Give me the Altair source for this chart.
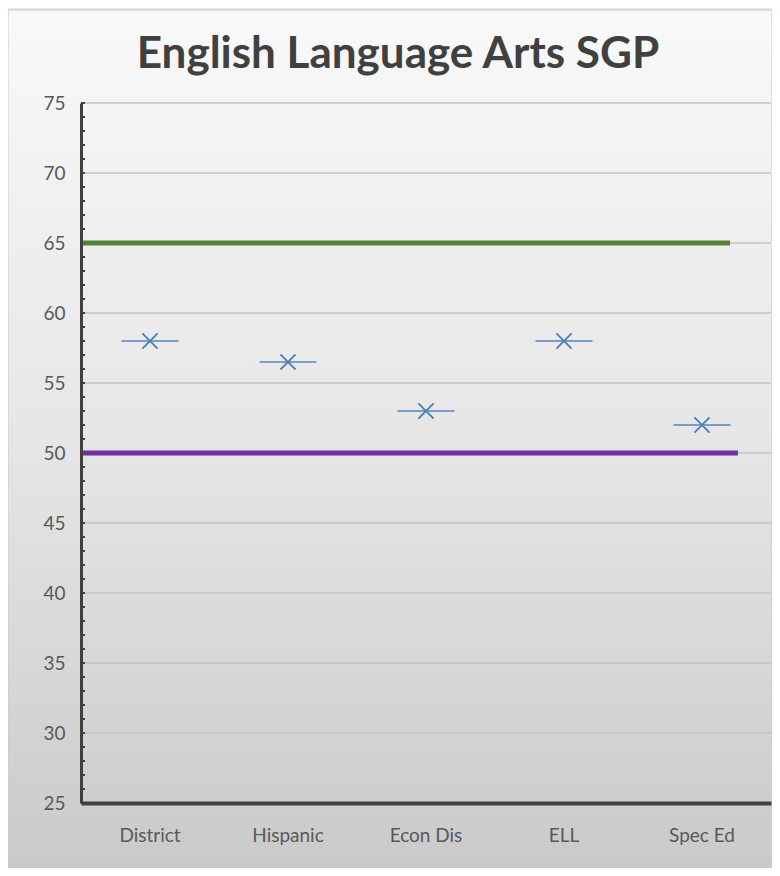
import altair as alt
import pandas as pd

title_text = "English Language Arts SGP"
categories = ["District", "Hispanic", "Econ Dis", "ELL", "Spec Ed"]
values = [58, 56.5, 53, 58, 52]
target_values = [65, 50]
target_colors = ["#548235", "#7030a0"]
target_ends = [649, 657]
grid_values = [30, 35, 40, 45, 50, 55, 60, 65, 70, 75]
minor_ticks = list(range(25, 76))

W, H = 690, 700

df = pd.DataFrame({"cat": categories, "val": values})
bg_df = pd.DataFrame({"a": [0]})
title_df = pd.DataFrame({"t": [title_text]})
grid_df = pd.DataFrame({"g": grid_values})
minor_df = pd.DataFrame({"m": minor_ticks})

yscale = alt.Scale(domain=[25, 75], nice=False, zero=False)
xscale = alt.Scale(domain=categories, paddingInner=0, paddingOuter=0)

bg = alt.Chart(bg_df).mark_rect(
    fill=alt.LinearGradient(
        gradient="linear",
        stops=[alt.GradientStop(offset=0, color="#f9f9f9"),
               alt.GradientStop(offset=0.5, color="#e6e6e6"),
               alt.GradientStop(offset=1, color="#cacaca")],
        x1=0, x2=0, y1=0, y2=1),
    stroke="#d0c8ca", strokeWidth=1
).encode(x=alt.value(-73), x2=alt.value(W + 1), y=alt.value(-93), y2=alt.value(H + 65))

title = alt.Chart(title_df).mark_text(
    font="Lato", fontSize=44, fontWeight="bold", color="#404040", align="center", baseline="middle"
).encode(text="t:N", x=alt.value(317), y=alt.value(-48))

grid = alt.Chart(grid_df).mark_rule(color="#c3c3c3", strokeWidth=1.6).encode(
    y=alt.Y("g:Q", scale=yscale),
    x=alt.value(0), x2=alt.value(W)
)

minor = alt.Chart(minor_df).mark_rule(color="#404040", strokeWidth=2).encode(
    y=alt.Y("m:Q", scale=yscale),
    x=alt.value(0), x2=alt.value(4)
)

ref_layers = []
for v, c, e in zip(target_values, target_colors, target_ends):
    ref_layers.append(
        alt.Chart(pd.DataFrame({"t": [v]})).mark_rule(color=c, strokeWidth=5).encode(
            y=alt.Y("t:Q", scale=yscale), x=alt.value(0), x2=alt.value(e)
        )
    )

xenc = alt.X("cat:N", scale=xscale, sort=categories,
             axis=alt.Axis(title=None, labelAngle=0, ticks=False, labelPadding=23,
                           domainColor="#404040", domainWidth=4, labelFont="Lato",
                           labelFontSize=19, labelColor="#595959", grid=False, zindex=1))
yenc = alt.Y("val:Q", scale=yscale,
             axis=alt.Axis(title=None, values=grid_values + [25], grid=False, ticks=False,
                           domainColor="#404040", domainWidth=3, labelFont="Lato",
                           labelFontSize=19, labelColor="#595959", labelPadding=16, zindex=1))

dash = alt.Chart(df).mark_tick(color="#4a7ebb", thickness=2, size=57).encode(x=xenc, y=yenc)
cross = alt.Chart(df).mark_point(
    shape="M-1,-1L1,1M1,-1L-1,1", filled=False, color="#4a7ebb", strokeWidth=1.8, size=230, opacity=1
).encode(x=xenc, y=yenc)

chart = alt.layer(bg, grid, minor, *ref_layers, dash, cross, title).properties(
    width=W, height=H,
    autosize=alt.AutoSizeParams(type="none"),
    padding={"left": 73, "top": 95, "right": 1, "bottom": 65},
).configure_view(stroke=None).configure(background="#f3e3e6")

chart.save("out.html", embed_options={"renderer": "svg", "actions": False})
